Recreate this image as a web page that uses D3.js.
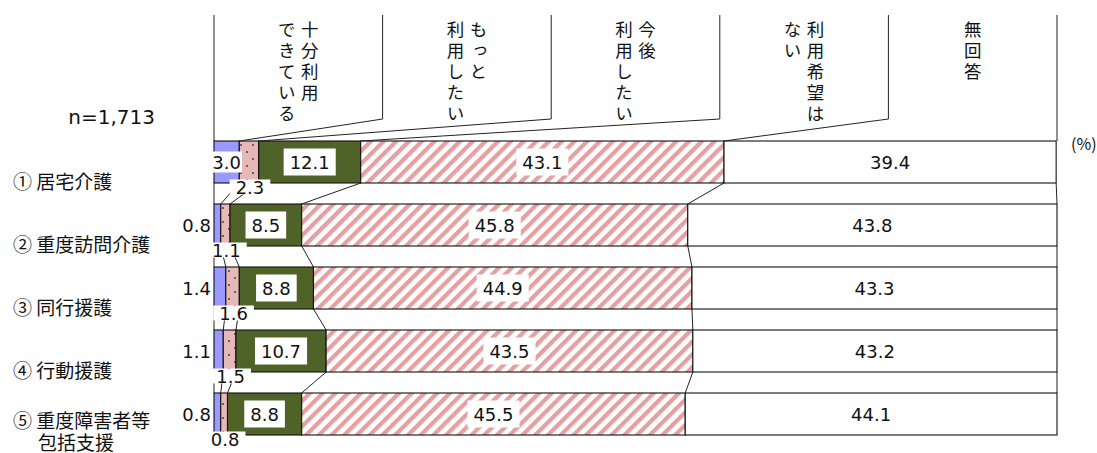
<!DOCTYPE html>
<html>
<head>
<meta charset="utf-8">
<script src="https://cdn.jsdelivr.net/npm/d3@7"></script>
<style>
  body { margin: 0; background: #fff; }
  svg { font-family: "DejaVu Sans", "Noto Sans CJK JP", sans-serif; }
  .jp { font-family: "Noto Sans CJK JP", sans-serif; }
</style>
</head>
<body>
<div id="viewport"></div>
<script>
// data
var categories = [["① 居宅介護"], ["② 重度訪問介護"], ["③ 同行援護"], ["④ 行動援護"], ["⑤ 重度障害者等", "包括支援"]];
var seriesKeys = ["full", "more", "future", "noWish", "noAnswer"];
var headerLines = [["十分利用", "できている"], ["もっと", "利用したい"], ["今後", "利用したい"], ["利用希望は", "ない"], ["無回答"]];
var full = [3.0, 0.8, 1.4, 1.1, 0.8];
var more = [2.3, 1.1, 1.6, 1.5, 0.8];
var future = [12.1, 8.5, 8.8, 10.7, 8.8];
var noWish = [43.1, 45.8, 44.9, 43.5, 45.5];
var noAnswer = [39.4, 43.8, 43.3, 43.2, 44.1];
var sampleLabel = "n=1,713";
var unitLabel = "(%)";

var rows = categories.map(function(c, i) {
	return { idx: i, full: full[i], more: more[i], future: future[i], noWish: noWish[i], noAnswer: noAnswer[i] };
});

var W = 1097, H = 453;
var svg = d3.select("#viewport").append("svg").attr("width", W).attr("height", H);

var x = d3.scaleLinear().domain([0, 100]).range([214, 1057]);
var y = d3.scaleBand().domain(d3.range(rows.length)).range([141, 435]).paddingInner(1 / 3).paddingOuter(0);
var bh = y.bandwidth();

// patterns
var defs = svg.append("defs");
var hatch = defs.append("pattern").attr("id", "hatch").attr("patternUnits", "userSpaceOnUse")
	.attr("width", 9).attr("height", 9).attr("patternTransform", "rotate(45)");
hatch.append("rect").attr("width", 9).attr("height", 9).attr("fill", "#fff");
hatch.append("rect").attr("width", 4.3).attr("height", 9).attr("fill", "#e5a1a1");

var dots = defs.append("pattern").attr("id", "dots").attr("patternUnits", "userSpaceOnUse")
	.attr("width", 12).attr("height", 14).attr("x", 214).attr("y", 141);
dots.append("rect").attr("width", 12).attr("height", 14).attr("fill", "#e6b9b8");
dots.append("circle").attr("cx", 3).attr("cy", 4).attr("r", 0.9).attr("fill", "#333");
dots.append("circle").attr("cx", 9).attr("cy", 11).attr("r", 0.9).attr("fill", "#333");

var fills = { full: "#9999ff", more: "url(#dots)", future: "#4f6228", noWish: "url(#hatch)", noAnswer: "#fff" };

var stacked = d3.stack().keys(seriesKeys)(rows);

// bars
var layers = svg.append("g").selectAll("g").data(stacked).join("g")
	.attr("fill", function(d) { return fills[d.key]; });
layers.selectAll("rect").data(function(d) { return d; }).join("rect")
	.attr("x", function(d) { return x(d[0]); })
	.attr("y", function(d) { return y(d.data.idx); })
	.attr("width", function(d) { return x(d[1]) - x(d[0]); })
	.attr("height", bh)
	.attr("stroke", "#111").attr("stroke-width", 1.1);

// cumulative boundaries per row
var cums = rows.map(function(r, i) {
	return [0].concat(stacked.map(function(s) { return s[i][1]; }));
});

var lines = svg.append("g").attr("stroke", "#222").attr("stroke-width", 1).attr("fill", "none");

// connectors between rows
for (var i = 0; i < rows.length - 1; i++) {
	cums[i].forEach(function(v, k) {
		lines.append("line")
			.attr("x1", x(v)).attr("y1", y(i) + bh)
			.attr("x2", x(cums[i + 1][k])).attr("y2", y(i + 1));
	});
}

// header columns
var colW = (x(100) - x(0)) / headerLines.length;
var headTop = 15, headBottom = 119;
lines.append("line").attr("x1", x(0)).attr("y1", headTop).attr("x2", x(0)).attr("y2", y(0));
headerLines.forEach(function(h, j) {
	var xr = x(0) + colW * (j + 1);
	var target = x(cums[0][j + 1]);
	if (j === headerLines.length - 1) {
		lines.append("line").attr("x1", xr).attr("y1", headTop).attr("x2", xr).attr("y2", y(0));
	} else {
		lines.append("polyline").attr("points", [[xr, headTop], [xr, headBottom], [target, y(0)]].join(" "));
	}
	var cx = x(0) + colW * (j + 0.5);
	h.forEach(function(t, l) {
		var off = (h.length - 1) / 2 - l;
		svg.append("text").attr("class", "jp")
			.attr("x", cx + off * 23).attr("y", 21)
			.style("writing-mode", "vertical-rl")
			.style("letter-spacing", "3.5px")
			.attr("font-size", 17.5).attr("fill", "#111")
			.text(t);
	});
});

// value labels
var labels = svg.append("g").attr("font-size", 18).attr("fill", "#111");

function boxedLabel(tx, ty, txt, anchor, box, padX, padY) {
	var g = labels.append("g");
	var r = g.append("rect").attr("fill", "#fff");
	var t = g.append("text").attr("x", tx).attr("y", ty)
		.attr("text-anchor", anchor).attr("dominant-baseline", "central").text(txt);
	if (box) {
		var b = t.node().getBBox();
		r.attr("x", b.x - padX).attr("y", b.y - padY).attr("width", b.width + 2 * padX).attr("height", b.height + 2 * padY);
	} else {
		r.remove();
	}
}

stacked.forEach(function(s) {
	s.forEach(function(d) {
		var i = d.data.idx;
		var v = d[1] - d[0];
		var mid = (x(d[0]) + x(d[1])) / 2;
		var cy = y(i) + bh / 2;
		var txt = d3.format(".1f")(v);
		if (s.key === "full") {
			if (v >= 2) boxedLabel(mid, cy, txt, "middle", true, 1, 0);
			else boxedLabel(x(0) - 3, cy, txt, "end", false);
		} else if (s.key === "more") {
			boxedLabel(mid + 1, y(i) + bh + 4, txt, "middle", true, 6, -3);
		} else if (s.key === "noAnswer") {
			boxedLabel(mid, cy, txt, "middle", false);
		} else {
			boxedLabel(mid, cy, txt, "middle", true, 6, 3);
		}
	});
});

// category labels (second line is its own text element)
categories.forEach(function(c, i) {
	var cy = y(i) + bh / 2 + 18;
	c.forEach(function(line, l) {
		var off = l - (c.length - 1) / 2;
		svg.append("text").attr("class", "jp").attr("font-size", 19).attr("fill", "#111")
			.attr("dominant-baseline", "central")
			.attr("x", l === 0 ? 13 : 38)
			.attr("y", cy + off * 22 - (c.length > 1 ? 1.5 : 0))
			.text(line);
	});
});

svg.append("text").attr("x", 155).attr("y", 117).attr("text-anchor", "end")
	.attr("font-size", 20).attr("fill", "#111").attr("dominant-baseline", "central").text(sampleLabel);
svg.append("text").attr("class", "jp").attr("x", 1071).attr("y", 143)
	.attr("font-size", 16).attr("fill", "#111").attr("dominant-baseline", "central").text(unitLabel);
</script>
</body>
</html>
